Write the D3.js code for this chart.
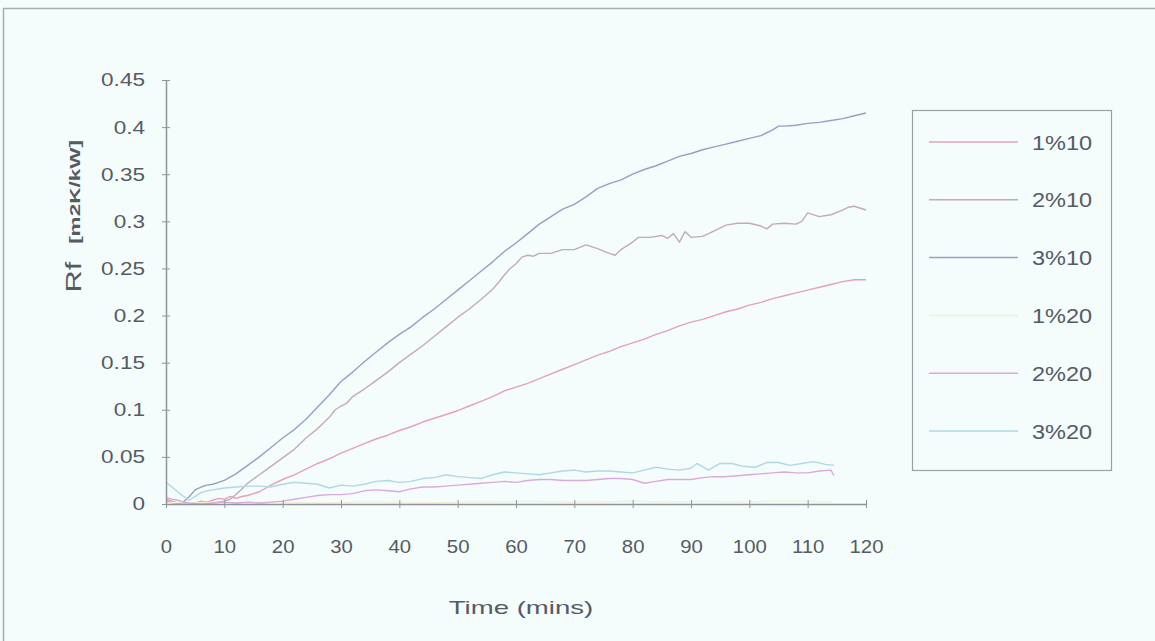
<!DOCTYPE html>
<html>
<head>
<meta charset="utf-8">
<script src="https://cdn.jsdelivr.net/npm/d3@7"></script>
<style>
  body { margin: 0; background: #f5fcfc; }
  svg { display: block; }
  text { font-family: "Liberation Sans", Arial, sans-serif; fill: #565b62; }
</style>
</head>
<body>
<svg id="chart" width="1155" height="641"></svg>
<script>
// ---- data ----------------------------------------------------------------
const seriesNames  = ["1%10", "2%10", "3%10", "1%20", "2%20", "3%20"];
const seriesColors = ["#e6a2b4", "#c4aab8", "#98a0c0", "#f3f1d2", "#d9abdb", "#aed8e4"];

const xTicks = [0, 10, 20, 30, 40, 50, 60, 70, 80, 90, 100, 110, 120];
const yTicks = [0, 0.05, 0.1, 0.15, 0.2, 0.25, 0.3, 0.35, 0.4, 0.45];

// 1%10
const time_1_10 = [0,1,2,3,4,5,6,7,8,9,10,11,12,13,14,15,16,18,20,22,24,26,28,30,32,34,36,38,40,42,44,46,48,50,52,54,56,58,60,62,64,66,68,70,72,74,76,78,80,82,84,86,88,90,92,94,96,98,100,102,104,106,108,110,112,114,116,118,120];
const rf_1_10   = [0.005,0.003,0.001,0.002,0.0,0.001,0.003,0.002,0.004,0.006,0.005,0.008,0.006,0.008,0.009,0.011,0.013,0.02,0.026,0.031,0.037,0.043,0.048,0.054,0.059,0.064,0.069,0.073,0.078,0.082,0.087,0.091,0.095,0.099,0.104,0.109,0.114,0.12,0.124,0.128,0.133,0.138,0.143,0.148,0.153,0.158,0.162,0.167,0.171,0.175,0.18,0.184,0.189,0.193,0.196,0.2,0.204,0.207,0.211,0.214,0.218,0.221,0.224,0.227,0.23,0.233,0.236,0.238,0.238];

// 2%10
const time_2_10 = [0,2,4,6,8,10,11,12,13,14,16,18,20,22,24,26,28,29,30,31,32,34,36,38,40,42,44,46,48,50,52,54,56,57,58,59,60,61,62,63,64,66,68,70,72,74,76,77,78,80,81,83,85,86,87,88,89,90,92,94,96,98,100,102,103,104,106,108,109,110,112,114,116,117,118,120];
const rf_2_10   = [0.002,0.001,0.0,0.002,0.001,0.003,0.005,0.01,0.016,0.022,0.031,0.04,0.049,0.058,0.07,0.08,0.092,0.1,0.104,0.107,0.114,0.122,0.131,0.14,0.15,0.159,0.168,0.178,0.188,0.198,0.207,0.217,0.228,0.235,0.243,0.25,0.255,0.262,0.264,0.263,0.266,0.266,0.27,0.27,0.275,0.271,0.266,0.264,0.27,0.278,0.283,0.283,0.285,0.282,0.287,0.278,0.289,0.283,0.284,0.29,0.296,0.298,0.298,0.295,0.292,0.297,0.298,0.297,0.3,0.309,0.305,0.307,0.312,0.315,0.316,0.312];

// 3%10
const time_3_10 = [0,1,2,3,4,5,6,7,8,9,10,12,14,16,18,20,22,24,26,28,30,32,34,36,38,40,42,44,46,48,50,52,54,56,58,60,62,64,66,68,70,72,74,76,78,80,82,84,86,88,90,92,94,96,98,100,102,104,105,106,108,110,112,114,116,118,120];
const rf_3_10   = [0.003,0.002,0.001,0.002,0.008,0.015,0.018,0.02,0.021,0.023,0.025,0.032,0.041,0.05,0.06,0.07,0.079,0.09,0.103,0.116,0.13,0.14,0.151,0.161,0.171,0.18,0.188,0.198,0.207,0.217,0.227,0.237,0.247,0.257,0.268,0.277,0.287,0.297,0.305,0.313,0.318,0.326,0.335,0.34,0.344,0.35,0.355,0.359,0.364,0.369,0.372,0.376,0.379,0.382,0.385,0.388,0.391,0.397,0.401,0.401,0.402,0.404,0.405,0.407,0.409,0.412,0.415];

// 1%20
const time_1_20 = [0,4,8,12,16,20,26,32,38,44,50,56,62,68,74,80,86,92,98,104,110,114];
const rf_1_20   = [0.002,0.001,0.002,0.001,0.001,0.002,0.001,0.002,0.002,0.001,0.002,0.002,0.003,0.002,0.002,0.003,0.002,0.003,0.002,0.003,0.003,0.002];

// 2%20
const time_2_20 = [0,1,2,3,4,6,8,10,12,14,16,18,20,22,24,26,28,30,32,34,36,38,40,42,44,46,48,50,52,54,56,58,60,62,64,66,68,70,72,74,76,78,80,82,84,86,88,90,92,94,96,98,100,102,104,106,108,110,112,114,114.5];
const rf_2_20   = [0.007,0.005,0.004,0.002,0.001,0.0,0.001,0.002,0.001,0.002,0.001,0.002,0.003,0.005,0.007,0.009,0.01,0.01,0.011,0.014,0.015,0.014,0.013,0.016,0.018,0.018,0.019,0.02,0.021,0.022,0.023,0.024,0.023,0.025,0.026,0.026,0.025,0.025,0.025,0.026,0.027,0.027,0.026,0.022,0.024,0.026,0.026,0.026,0.028,0.029,0.029,0.03,0.031,0.032,0.033,0.034,0.033,0.033,0.035,0.036,0.03];

// 3%20
const time_3_20 = [0,1,2,3,4,5,6,7,8,10,12,14,16,18,20,22,24,26,28,30,32,34,36,38,40,42,44,46,48,50,52,54,56,58,60,62,64,66,68,70,72,74,76,78,80,82,84,86,88,90,91,93,95,97,99,101,103,105,107,109,111,113,114.5];
const rf_3_20   = [0.023,0.018,0.013,0.008,0.004,0.008,0.012,0.014,0.015,0.017,0.018,0.019,0.019,0.018,0.021,0.023,0.022,0.021,0.017,0.02,0.019,0.021,0.024,0.025,0.023,0.024,0.027,0.028,0.031,0.029,0.028,0.027,0.031,0.034,0.033,0.032,0.031,0.033,0.035,0.036,0.034,0.035,0.035,0.034,0.033,0.036,0.039,0.037,0.036,0.038,0.043,0.036,0.043,0.043,0.04,0.039,0.044,0.044,0.041,0.043,0.045,0.042,0.041];

const seriesTimes  = [time_1_10, time_2_10, time_3_10, time_1_20, time_2_20, time_3_20];
const seriesValues = [rf_1_10, rf_2_10, rf_3_10, rf_1_20, rf_2_20, rf_3_20];

// ---- drawing ---------------------------------------------------------------
const svg = d3.select("#chart");
const axisColor = "#8f949c";

// widen text along its baseline by factor k
function stretch(sel, k) {
  sel.each(function () {
    const w = this.getComputedTextLength();
    this.setAttribute("textLength", w * k);
    this.setAttribute("lengthAdjust", "spacingAndGlyphs");
  });
}

// outer frame (top and left edges)
svg.append("line").attr("x1", 3).attr("x2", 1155).attr("y1", 8.5).attr("y2", 8.5)
  .attr("stroke", "#a8adb3").attr("stroke-width", 1.5);
svg.append("line").attr("x1", 3.5).attr("x2", 3.5).attr("y1", 8).attr("y2", 641)
  .attr("stroke", "#a8adb3").attr("stroke-width", 1.5);

const x = d3.scaleLinear().domain([0, 120]).range([166, 866]);
const y = d3.scaleLinear().domain([0, 0.45]).range([504, 80]);

// series lines (drawn first, axes on top)
const line = d3.line().x(d => x(d[0])).y(d => y(d[1]));
const plot = svg.append("g");
seriesNames.forEach((name, i) => {
  const pts = seriesTimes[i].map((t, j) => [t, seriesValues[i][j]]);
  plot.append("path")
    .datum(pts)
    .attr("fill", "none")
    .attr("stroke", seriesColors[i])
    .attr("stroke-width", 1.4)
    .attr("stroke-linejoin", "round")
    .attr("d", line);
});

// y axis
const gy = svg.append("g").attr("transform", "translate(166,0)")
  .call(d3.axisLeft(y).tickValues(yTicks).tickSizeInner(4).tickSizeOuter(0)
    .tickPadding(17).tickFormat(d => d3.format("~g")(d)));
gy.select(".domain").attr("stroke", axisColor).attr("stroke-width", 1.5);
gy.selectAll(".tick line").attr("x1", 4).attr("x2", -4).attr("stroke", axisColor);
gy.selectAll(".tick text").attr("font-size", 18.5).attr("fill", "#565b62")
  .attr("font-family", "Liberation Sans, Arial, sans-serif").call(stretch, 1.22);

// x axis
const gx = svg.append("g").attr("transform", "translate(0,504)")
  .call(d3.axisBottom(x).tickValues(xTicks).tickSizeInner(4).tickSizeOuter(0)
    .tickPadding(32));
gx.select(".domain").attr("stroke", axisColor).attr("stroke-width", 1.5);
gx.selectAll(".tick line").attr("y1", -4).attr("y2", 4).attr("stroke", axisColor);
gx.selectAll(".tick text").attr("font-size", 18.5).attr("fill", "#565b62")
  .attr("font-family", "Liberation Sans, Arial, sans-serif").call(stretch, 1.1);

// axis titles
svg.append("text")
  .attr("x", 521).attr("y", 614)
  .attr("text-anchor", "middle")
  .attr("font-size", 19)
  .text("Time (mins)")
  .call(stretch, 1.45);

svg.append("text")
  .attr("transform", "translate(81,277) rotate(-90)")
  .attr("text-anchor", "middle")
  .attr("font-size", 22)
  .text("Rf")
  .call(stretch, 1.4);
svg.append("text")
  .attr("transform", "translate(80,192) rotate(-90)")
  .attr("text-anchor", "middle")
  .attr("font-size", 15)
  .attr("font-weight", "bold")
  .text("[m2K/kW]")
  .call(stretch, 1.5);

// legend
const legend = svg.append("g");
legend.append("rect")
  .attr("x", 912.5).attr("y", 110.5).attr("width", 199).attr("height", 360)
  .attr("fill", "none").attr("stroke", "#9ba0a7").attr("stroke-width", 1.2);
const legendY = d3.scalePoint().domain(seriesNames).range([142, 431]);
seriesNames.forEach((name, i) => {
  const yy = legendY(name);
  legend.append("line")
    .attr("x1", 929).attr("x2", 1018).attr("y1", yy).attr("y2", yy)
    .attr("stroke", seriesColors[i]).attr("stroke-width", 1.5);
  legend.append("text")
    .attr("x", 1032).attr("y", yy).attr("dy", "0.36em")
    .attr("font-size", 21)
    .text(name)
    .call(stretch, 1.12);
});
</script>
</body>
</html>
